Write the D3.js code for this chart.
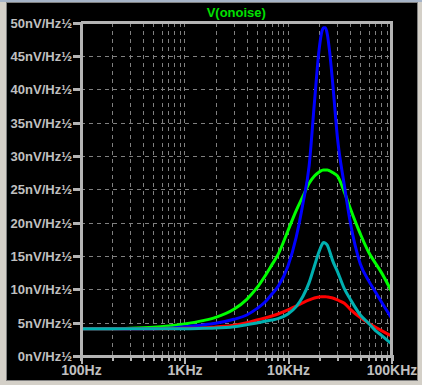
<!DOCTYPE html>
<html><head><meta charset="utf-8">
<script src="https://cdn.jsdelivr.net/npm/d3@7/dist/d3.min.js"></script>
<style>
html,body{margin:0;padding:0;background:#d4d0c8;overflow:hidden}
svg{display:block}
</style></head>
<body>
<svg id="c" width="422" height="385"></svg>
<script>
// ---- data ----
const title = "V(onoise)";
const freqs = [100,200,300,500,700,1000,1500,2000,3000,4000,5000,6000,7000,8000,10000,12000,14000,16000,18000,20000,21000,22000,23000,24000,25000,27000,30000,35000,40000,50000,60000,70000,80000,100000];
const greenVals = [4.1,4.1,4.15,4.3,4.5,4.8,5.3,5.8,7.0,8.5,10.2,12.0,13.7,15.2,18.8,21.8,24.0,25.9,27.0,27.6,27.8,27.9,27.9,27.9,27.8,27.5,27.0,24.6,22.1,18.3,15.6,13.9,12.5,9.7];
const blueVals  = [4.1,4.1,4.1,4.1,4.15,4.4,4.65,4.9,5.5,6.15,7.1,8.1,9.3,10.4,13.5,17.8,23.0,28.5,38.0,46.0,48.3,49.2,49.2,48.2,46.2,41.0,32.8,25.6,20.0,13.8,11.3,9.6,8.1,5.7];
const redVals   = [4.1,4.1,4.1,4.1,4.1,4.15,4.2,4.35,4.6,5.0,5.4,5.7,6.0,6.3,6.9,7.5,8.0,8.4,8.7,8.85,8.9,8.9,8.9,8.85,8.8,8.7,8.4,7.9,7.0,5.75,4.9,4.3,3.8,3.0];
const cyanVals  = [4.1,4.1,4.1,4.1,4.1,4.1,4.15,4.2,4.4,4.7,4.95,5.2,5.4,5.6,6.3,7.4,9.0,11.0,13.5,15.7,16.5,17.0,16.9,16.6,15.9,14.3,12.7,10.1,8.5,6.15,4.9,3.8,3.1,1.8];
const yTicks = [0,5,10,15,20,25,30,35,40,45,50];
const xMajor = [100,1000,10000,100000];
const xMajorLabels = ["100Hz","1KHz","10KHz","100KHz"];
const yUnit = "nV/Hz½";

const series = [
  {name:"step1", color:"#00ff00", values:greenVals},
  {name:"step2", color:"#0000ff", values:blueVals},
  {name:"step3", color:"#ff0000", values:redVals},
  {name:"step4", color:"#00b0b0", values:cyanVals}
];

// ---- layout ----
const svg = d3.select("#c");
const L=81, R=391.5, T=22.5, B=356;
const x = d3.scaleLog().domain([100,100000]).range([L,R]);
const y = d3.scaleLinear().domain([0,50]).range([B,T]);
const font = "Liberation Sans, Arial, sans-serif";

// window frame
svg.append("rect").attr("x",0).attr("y",0).attr("width",422).attr("height",385).attr("fill","#d4d0c8");
svg.append("rect").attr("x",0).attr("y",0).attr("width",422).attr("height",2).attr("fill","#a6b4c8");
svg.append("rect").attr("x",6).attr("y",2).attr("width",412).attr("height",379).attr("fill","#808080");
svg.append("rect").attr("x",7).attr("y",3).attr("width",410).attr("height",377).attr("fill","#000");

// minor frequency values
const xMinor = [];
for (let d=100; d<100000; d*=10) for (let k=2;k<=9;k++) xMinor.push(d*k);
const xAll = xMinor.concat(xMajor).sort((a,b)=>a-b);

const grey = "#b4b4b4";
// grid
const g = svg.append("g").attr("shape-rendering","crispEdges");
g.selectAll(".vg").data(xMinor.concat([1000,10000])).enter().append("line")
  .attr("x1",d=>Math.round(x(d))+0.5).attr("x2",d=>Math.round(x(d))+0.5)
  .attr("y1",T).attr("y2",B)
  .attr("stroke","#808080").attr("stroke-width",1).attr("stroke-dasharray","4,4");
g.selectAll(".hg").data(yTicks.filter(v=>v>0&&v<50)).enter().append("line")
  .attr("x1",L).attr("x2",R)
  .attr("y1",d=>Math.round(y(d))+0.5).attr("y2",d=>Math.round(y(d))+0.5)
  .attr("stroke","#808080").attr("stroke-width",1).attr("stroke-dasharray","4,4");

// traces
const line = d3.line().x((d,i)=>x(freqs[i])).y(d=>y(d)).curve(d3.curveMonotoneX);
const tg = svg.append("g");
series.forEach(s=>{
  tg.append("path").datum(s.values).attr("d",line)
    .attr("fill","none").attr("stroke",s.color).attr("stroke-width",3)
    .attr("stroke-linejoin","round");
});

// frame (top/right)
svg.append("path").attr("d",`M${L},${T}H${R}V${B}`).attr("fill","none")
  .attr("stroke",grey).attr("stroke-width",3).attr("shape-rendering","crispEdges");

// y axis
const yAxis = d3.axisLeft(y).tickValues(yTicks).tickSize(8).tickPadding(1)
  .tickFormat(d=>d+yUnit);
const ya = svg.append("g").attr("transform",`translate(${L},0)`).call(yAxis);
ya.select(".domain").attr("stroke",grey).attr("stroke-width",3).attr("shape-rendering","crispEdges");
ya.selectAll(".tick line").attr("stroke",grey).attr("stroke-width",3).attr("shape-rendering","crispEdges");
ya.selectAll(".tick text").attr("fill","#c0c0c0").attr("font-family",font)
  .attr("font-size",13).attr("font-weight","bold").attr("dy","0.36em");

// x axis
const xAxis = d3.axisBottom(x).tickValues(xAll).tickSize(5).tickPadding(4)
  .tickFormat(d=>{const i=xMajor.indexOf(d); return i>=0?xMajorLabels[i]:"";});
const xa = svg.append("g").attr("transform",`translate(0,${B})`).call(xAxis);
xa.select(".domain").attr("stroke",grey).attr("stroke-width",3).attr("shape-rendering","crispEdges");
xa.selectAll(".tick line").attr("stroke",grey).attr("stroke-width",2).attr("shape-rendering","crispEdges")
  .attr("y2",d=>xMajor.includes(d)?8:5);
xa.selectAll(".tick text").attr("fill","#c0c0c0").attr("font-family",font)
  .attr("font-size",14).attr("font-weight","bold").attr("y",9);

// title
svg.append("text").attr("x",(L+R)/2).attr("y",17).attr("text-anchor","middle")
  .attr("fill","#00e000").attr("font-family",font).attr("font-weight","bold")
  .attr("font-size",13).text(title);
</script>
</body></html>
